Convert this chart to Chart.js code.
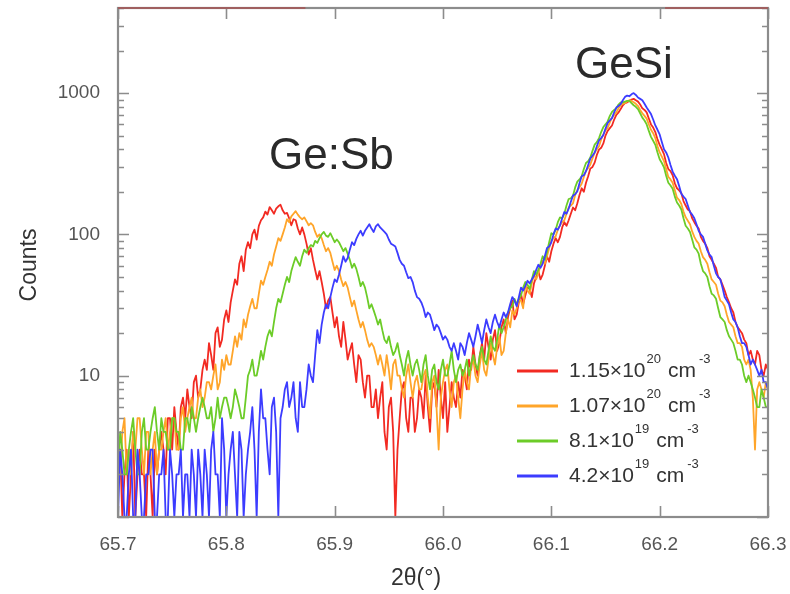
<!DOCTYPE html>
<html>
<head>
<meta charset="utf-8">
<script src="https://cdn.jsdelivr.net/npm/chart.js@4.4.1/dist/chart.umd.min.js"></script>
<style>
  html, body { margin: 0; padding: 0; background: #fff; }
  canvas { display: block; }
</style>
</head>
<body>
<canvas id="xrd" width="790" height="594"></canvas>
<script>
// 2θ sampling of the scans
const twoThetaStart = 65.7;
const twoThetaStep = 0.002;

// Counts per 2θ step for each Sb doping level (one row = 0.04°)
const counts115e20 = [
  2,3,1,2,3,1,2,4,1,2,3,2,2,1,3,2,1,3,2,3,
  4,3,2,5,5,3,6,4,3,6,7,5,8,6,5,9,10,7,8,11,
  13,11,17,14,11,20,22,16,18,25,29,24,33,40,48,44,62,70,55,78,
  88,80,100,108,92,115,126,132,145,138,156,148,140,152,158,162,148,140,142,130,
  116,128,126,110,100,112,100,86,72,80,66,56,48,55,46,38,30,34,36,28,
  22,26,19,16,24,18,13,15,17,12,9,14,13,9,7,10,10,6,6,8,
  5,7,9,4,3,6,7,4,1,3,5,8,9,5,4,7,7,4,5,8,
  7,5,10,6,4,8,9,6,11,7,5,9,4,6,9,7,6,9,7,11,
  10,8,13,11,16,12,10,14,17,13,20,16,13,18,21,15,17,22,25,20,
  26,30,34,25,27,33,38,32,37,42,41,36,45,50,55,48,52,60,70,64,
  76,86,94,88,96,112,122,115,126,140,155,148,166,190,212,200,232,258,292,300,
  322,365,398,410,440,500,540,565,590,650,700,730,770,820,850,860,880,900,910,890,
  870,830,780,760,730,660,600,570,530,470,430,400,370,320,290,280,262,230,212,205,
  196,172,160,150,146,130,122,115,110,96,90,86,80,70,66,62,58,50,48,44,
  40,36,33,30,28,24,22,21,20,18,17,14,15,13,12,15,14,11,10,12,
  11
];
const counts107e20 = [
  3,2,4,5,2,3,2,4,3,5,5,3,2,4,4,2,3,4,2,3,
  3,4,5,3,4,5,5,3,3,5,6,4,5,6,7,5,5,7,8,6,
  7,9,9,8,10,12,8,9,13,11,14,12,12,15,19,16,20,18,25,22,
  27,31,35,30,30,38,47,44,50,56,64,60,72,82,94,90,100,112,128,122,
  134,140,146,138,132,128,132,124,116,120,116,104,96,100,94,84,76,80,74,64,
  56,60,55,48,43,46,42,36,31,34,29,25,22,24,21,18,16,17,16,14,
  12,14,12,10,14,11,8,12,13,10,10,8,7,10,12,9,7,9,10,8,
  8,10,11,7,5,9,10,6,3,7,9,11,12,8,6,9,10,7,5,8,
  11,9,8,12,13,10,9,12,15,11,10,13,17,14,12,16,19,14,15,20,
  25,22,29,27,30,34,34,30,44,40,38,45,52,48,53,60,65,62,70,80,
  90,94,97,108,116,122,126,140,155,160,166,190,206,215,228,255,282,295,312,345,
  378,400,420,470,510,545,570,620,670,700,730,780,820,840,850,870,890,880,860,840,
  810,760,720,690,660,600,550,520,480,420,380,355,330,290,255,245,232,205,182,175,
  164,145,132,125,118,105,96,90,86,76,69,66,62,54,48,46,44,38,34,33,
  31,27,24,23,22,19,17,17,16,13,12,13,11,7,3,8,9,8,7,9,
  8
];
const counts81e19 = [
  2,4,3,2,2,3,4,5,3,2,2,4,5,3,3,4,5,6,4,3,
  5,4,4,3,3,5,5,4,4,3,3,5,5,4,6,5,4,5,6,7,
  6,5,5,6,4,5,7,5,6,7,7,6,5,6,8,7,6,5,5,7,
  10,11,13,10,10,12,15,13,16,19,21,19,24,30,35,33,38,44,50,46,
  55,62,69,64,60,70,78,74,80,84,82,90,87,94,100,104,98,96,102,95,
  88,92,88,82,76,80,73,66,58,62,57,50,43,46,42,36,30,32,29,26,
  23,25,21,18,17,19,16,14,15,17,14,12,10,13,15,12,10,12,13,11,
  9,12,14,10,8,11,12,9,8,11,13,10,10,12,15,11,9,11,12,10,
  11,13,10,12,14,12,11,14,16,13,12,15,19,16,15,18,23,20,22,25,
  28,30,31,35,32,35,37,42,46,44,41,48,55,52,56,62,70,66,75,88,
  102,100,108,122,132,130,140,160,178,180,188,215,236,245,258,290,320,330,350,390,
  432,450,480,530,575,600,630,690,735,760,780,830,860,860,870,880,880,850,820,800,
  770,720,670,640,600,540,490,460,430,380,340,320,298,260,232,222,210,185,168,160,
  150,130,115,110,104,92,81,78,73,62,55,53,50,43,38,37,35,30,26,25,
  24,21,19,18,17,15,13,13,12,10,9,10,9,8,7,6,6,8,7,6,
  6
];
const counts42e19 = [
  1,3,2,1,1,2,3,1,1,3,2,1,1,2,2,3,3,1,1,2,
  2,3,1,1,3,2,1,2,2,3,1,2,2,1,3,2,1,3,2,1,
  3,2,1,3,4,2,2,1,5,3,1,2,3,4,2,1,4,3,1,2,
  3,4,6,3,1,4,8,5,5,3,2,6,7,4,1,5,6,8,9,6,
  7,9,5,4,9,6,6,8,12,10,9,14,21,17,23,28,32,30,36,42,
  48,46,52,60,70,64,68,78,88,84,93,100,106,98,106,112,118,110,104,114,
  118,112,108,104,100,92,86,84,82,74,66,62,60,54,49,50,46,40,36,35,
  33,30,26,28,27,24,21,23,22,20,18,19,18,16,15,17,15,13,17,16,
  14,17,20,18,16,19,23,20,17,21,25,22,20,24,27,24,22,25,28,26,
  28,32,36,34,31,36,42,40,43,47,45,48,51,56,61,58,62,70,80,82,
  88,100,110,108,116,130,144,140,152,170,188,192,202,230,258,262,280,310,345,360,
  380,420,462,480,505,560,615,640,665,730,790,810,835,890,940,960,950,980,1000,970,
  930,910,890,840,790,750,710,650,590,550,510,450,400,380,350,310,278,260,246,220,
  194,185,178,160,144,138,130,118,106,100,96,86,77,72,69,60,53,50,48,42,
  36,34,32,28,25,24,22,19,17,17,16,14,12,13,12,11,10,11,9,9,
  8
];

// Legend entries: mantissa, exponent
const seriesMantissa = ['1.15', '1.07', '8.1', '4.2'];
const seriesExponent = ['20', '20', '19', '19'];
const seriesColors = ['#f22a22', '#ffa52a', '#6ccc28', '#3c3cff'];

// Axis ticks
const xTickValues = [65.7, 65.8, 65.9, 66.0, 66.1, 66.2, 66.3];
const yLabelValues = [10, 100, 1000];
const yTickValues = [];
for (const decade of [1, 10, 100, 1000]) {
  for (let m = 1; m <= 9; m++) {
    const v = m * decade;
    if (v <= 4000) yTickValues.push(v);
  }
}

const FONT = "'Liberation Sans', Arial, Helvetica, sans-serif";

function toPoints(values) {
  return values.map((c, i) => ({ x: +(twoThetaStart + i * twoThetaStep).toFixed(3), y: c }));
}

const allCounts = [counts115e20, counts107e20, counts81e19, counts42e19];

const datasets = allCounts.map((vals, k) => ({
  label: seriesMantissa[k] + '×10^' + seriesExponent[k] + ' cm^-3',
  data: toPoints(vals),
  borderColor: seriesColors[k],
  borderWidth: 1.8,
  pointRadius: 0,
  tension: 0,
  borderJoinStyle: 'round',
  order: 4 - k
}));

// Frame with inward ticks on all four sides
const framePlugin = {
  id: 'frame',
  afterDatasetsDraw(chart) {
    const { ctx, chartArea: a, scales } = chart;
    const xs = scales.x, ys = scales.y;
    ctx.save();
    ctx.strokeStyle = '#8c8c8c';
    ctx.lineWidth = 1.6;
    ctx.beginPath();
    for (const v of yTickValues) {
      const py = Math.round(ys.getPixelForValue(v)) + 0.5;
      const major = yLabelValues.includes(v) || v === 1;
      const len = major ? 11 : 6;
      ctx.moveTo(a.left, py); ctx.lineTo(a.left + len, py);
      ctx.moveTo(a.right, py); ctx.lineTo(a.right - len, py);
    }
    for (const v of xTickValues) {
      const px = Math.round(xs.getPixelForValue(v)) + 0.5;
      ctx.moveTo(px, a.bottom); ctx.lineTo(px, a.bottom - 11);
      ctx.moveTo(px, a.top); ctx.lineTo(px, a.top + 11);
    }
    ctx.stroke();
    ctx.lineWidth = 2.2;
    ctx.strokeRect(a.left, a.top, a.right - a.left, a.bottom - a.top);
    // reddish trace along the top edge
    ctx.strokeStyle = 'rgba(170,70,70,0.85)';
    ctx.lineWidth = 1.6;
    ctx.beginPath();
    ctx.moveTo(a.left, a.top); ctx.lineTo(xs.getPixelForValue(65.873), a.top);
    ctx.moveTo(xs.getPixelForValue(66.205), a.top); ctx.lineTo(a.right, a.top);
    ctx.stroke();
    ctx.restore();
  }
};

// Titles, peak names and legend
const textPlugin = {
  id: 'texts',
  afterDraw(chart) {
    const { ctx } = chart;
    ctx.save();
    ctx.fillStyle = '#2a2a2a';
    ctx.textAlign = 'left';
    ctx.textBaseline = 'alphabetic';
    ctx.font = '44px ' + FONT;
    ctx.fillText('Ge:Sb', 269, 169);
    ctx.fillText('GeSi', 575, 78);

    ctx.fillStyle = '#333';
    ctx.font = '23px ' + FONT;
    ctx.textAlign = 'center';
    ctx.textBaseline = 'middle';
    ctx.fillText('2θ(°)', 416, 579);
    ctx.save();
    ctx.translate(30, 265);
    ctx.rotate(-Math.PI / 2);
    ctx.fillText('Counts', 0, 0);
    ctx.restore();

    // legend
    const rows = [371, 406, 441, 476];
    ctx.textAlign = 'left';
    ctx.textBaseline = 'middle';
    for (let k = 0; k < 4; k++) {
      const y = rows[k];
      ctx.strokeStyle = seriesColors[k];
      ctx.lineWidth = 3;
      ctx.beginPath();
      ctx.moveTo(517, y); ctx.lineTo(558, y);
      ctx.stroke();
      let x = 569;
      ctx.fillStyle = '#333';
      ctx.font = '21px ' + FONT;
      const base = seriesMantissa[k] + '×10';
      ctx.fillText(base, x, y);
      x += ctx.measureText(base).width + 1;
      ctx.font = '13px ' + FONT;
      ctx.fillText(seriesExponent[k], x, y - 12);
      x += ctx.measureText(seriesExponent[k]).width + 7;
      ctx.font = '21px ' + FONT;
      ctx.fillText('cm', x, y);
      x += ctx.measureText('cm').width + 3;
      ctx.font = '13px ' + FONT;
      ctx.fillText('-3', x, y - 12);
    }
    ctx.restore();
  }
};

new Chart(document.getElementById('xrd'), {
  type: 'line',
  data: { datasets },
  options: {
    responsive: false,
    animation: false,
    layout: { padding: { left: 0, right: 22, top: 8, bottom: 0 } },
    plugins: { legend: { display: false }, tooltip: { enabled: false } },
    scales: {
      x: {
        type: 'linear',
        min: 65.7,
        max: 66.3,
        grid: { display: false },
        border: { display: false },
        afterBuildTicks(scale) { scale.ticks = xTickValues.map(v => ({ value: v })); },
        afterFit(scale) {
          scale.height = 77;
          scale.paddingLeft = 0;
          scale.paddingRight = 0;
        },
        ticks: {
          autoSkip: false,
          maxRotation: 0,
          padding: 8,
          color: '#555',
          font: { family: FONT, size: 19 },
          callback: v => Number(v).toFixed(1)
        }
      },
      y: {
        type: 'logarithmic',
        min: 1,
        max: 4000,
        grid: { display: false },
        border: { display: false },
        afterBuildTicks(scale) { scale.ticks = yTickValues.map(v => ({ value: v })); },
        afterFit(scale) {
          scale.width = 118;
          scale.paddingTop = 0;
          scale.paddingBottom = 0;
        },
        ticks: {
          autoSkip: false,
          padding: 10,
          color: '#555',
          font: { family: FONT, size: 19 },
          callback: v => (yLabelValues.includes(v) ? String(v) : '')
        }
      }
    }
  },
  plugins: [framePlugin, textPlugin]
});
</script>
</body>
</html>
